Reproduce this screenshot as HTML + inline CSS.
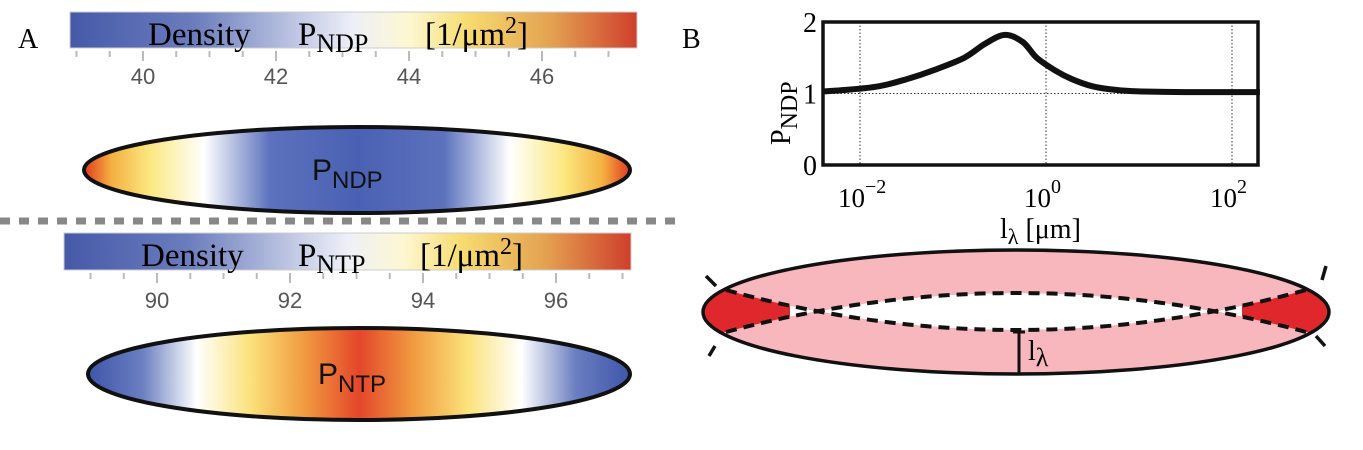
<!DOCTYPE html>
<html><head><meta charset="utf-8"><style>
html,body{margin:0;padding:0;background:#fff;width:1363px;height:450px;overflow:hidden}
svg{display:block}
.serif{font-family:"Liberation Serif",serif}
.sans{font-family:"Liberation Sans",sans-serif}
</style></head><body>
<svg id="fig" width="1363" height="450" viewBox="0 0 1363 450" xmlns="http://www.w3.org/2000/svg">
<defs>
<linearGradient id="cbar" x1="0" x2="1" y1="0" y2="0">
<stop offset="0" stop-color="#4559a8"/><stop offset="0.22" stop-color="#6b7dbd"/>
<stop offset="0.5" stop-color="#eef0f8"/><stop offset="0.6" stop-color="#fdf7d0"/>
<stop offset="0.7" stop-color="#f7dc70"/><stop offset="0.85" stop-color="#e3a150"/>
<stop offset="1" stop-color="#cf3f2c"/></linearGradient>
<linearGradient id="e1" x1="0" x2="1" y1="0" y2="0">
<stop offset="0" stop-color="#e03a20"/><stop offset="0.05" stop-color="#f4b040"/>
<stop offset="0.12" stop-color="#fbe880"/><stop offset="0.22" stop-color="#ffffff"/>
<stop offset="0.34" stop-color="#5c72bd"/><stop offset="0.5" stop-color="#4a61b3"/>
<stop offset="0.66" stop-color="#5c72bd"/><stop offset="0.78" stop-color="#ffffff"/>
<stop offset="0.88" stop-color="#fbe880"/><stop offset="0.95" stop-color="#f4b040"/>
<stop offset="1" stop-color="#e03a20"/></linearGradient>
<linearGradient id="e2" x1="0" x2="1" y1="0" y2="0">
<stop offset="0" stop-color="#3e56aa"/><stop offset="0.1" stop-color="#6a7ec0"/>
<stop offset="0.2" stop-color="#ffffff"/><stop offset="0.3" stop-color="#fbe27a"/>
<stop offset="0.4" stop-color="#f09a40"/><stop offset="0.5" stop-color="#e4462a"/>
<stop offset="0.6" stop-color="#f09a40"/><stop offset="0.7" stop-color="#fbe27a"/>
<stop offset="0.8" stop-color="#ffffff"/><stop offset="0.9" stop-color="#6a7ec0"/>
<stop offset="1" stop-color="#3e56aa"/></linearGradient>
<clipPath id="ellclip"><ellipse cx="1016" cy="312" rx="313" ry="62"/></clipPath>
<clipPath id="lensclip"><rect x="790" y="240" width="452" height="150"/></clipPath>
</defs>

<text x="18" y="48" class="serif" font-size="28">A</text>
<text x="682" y="48" class="serif" font-size="28">B</text>

<g>
<rect x="70" y="12" width="567" height="36" fill="url(#cbar)" stroke="#ccc" stroke-width="1"/>
<g id="ticks1"></g>
<text x="148" y="45" class="serif" font-size="33">Density</text>
<text x="298" y="45" class="serif" font-size="33">P<tspan font-size="26" dy="7">NDP</tspan></text>
<text x="425" y="45" class="serif" font-size="33">[1/μm<tspan font-size="24" dy="-12">2</tspan><tspan dy="12">]</tspan></text>
</g>
<g>
<ellipse cx="357" cy="170" rx="273" ry="43" fill="url(#e1)" stroke="#111" stroke-width="4"/>
<text x="312" y="180" class="sans" font-size="30" fill="#111">P<tspan font-size="24" dy="8">NDP</tspan></text>
</g>
<line x1="0" y1="221" x2="680" y2="221" stroke="#888" stroke-width="7" stroke-dasharray="10 9"/>

<g>
<rect x="64" y="233" width="567" height="37" fill="url(#cbar)" stroke="#ccc" stroke-width="1"/>
<g id="ticks2"></g>
<text x="141" y="266" class="serif" font-size="33">Density</text>
<text x="298" y="266" class="serif" font-size="33">P<tspan font-size="26" dy="7">NTP</tspan></text>
<text x="420" y="266" class="serif" font-size="33">[1/μm<tspan font-size="24" dy="-12">2</tspan><tspan dy="12">]</tspan></text>
</g>
<g>
<ellipse cx="359" cy="374" rx="271" ry="46" fill="url(#e2)" stroke="#111" stroke-width="4"/>
<text x="318" y="384" class="sans" font-size="30" fill="#111">P<tspan font-size="24" dy="8">NTP</tspan></text>
</g>

<g id="plotB"></g>
<text transform="translate(790,145) rotate(-90)" class="serif" font-size="28">P<tspan font-size="24" dy="7">NDP</tspan></text>
<text x="1000" y="238" class="serif" font-size="28">l<tspan font-size="22" dy="6">λ</tspan><tspan dy="-6"> [μm]</tspan></text>

<g>
<ellipse cx="1016" cy="312" rx="313" ry="62" fill="#f7b7bc"/>
<g clip-path="url(#ellclip)" fill="#e0282c">
<path d="M726,332 Q1016,254 1306,332 L1306,290 Q1016,370 726,290 Z"/>
<rect x="690" y="290" width="37" height="42"/>
<rect x="1305" y="290" width="37" height="42"/>
</g>
<path d="M726,332 Q1016,254 1306,332 L1306,290 Q1016,370 726,290 Z" fill="#fff" clip-path="url(#lensclip)"/>
<ellipse cx="1016" cy="312" rx="313" ry="62" fill="none" stroke="#111" stroke-width="3.5"/>
<path d="M726,332 Q1016,254 1306,332" fill="none" stroke="#111" stroke-width="4" stroke-dasharray="11 7"/>
<path d="M726,290 Q1016,370 1306,290" fill="none" stroke="#111" stroke-width="4" stroke-dasharray="11 7"/>
<g stroke="#111" stroke-width="3.5" fill="none">
<line x1="706" y1="276" x2="716" y2="286"/><line x1="715" y1="346" x2="709" y2="356"/>
<line x1="1326" y1="266" x2="1322" y2="280"/><line x1="1316" y1="336" x2="1325" y2="346"/>
</g>
<line x1="1019" y1="332" x2="1019" y2="374" stroke="#111" stroke-width="3"/>
<line x1="1013" y1="332" x2="1025" y2="332" stroke="#111" stroke-width="3"/>
<text x="1028" y="360" class="serif" font-size="28">l<tspan font-size="26" dy="6">λ</tspan></text>
</g>
</svg>

<script>
const ndpTicks = [40, 42, 44, 46];
const ntpTicks = [90, 92, 94, 96];
const logX = [-2.4,-2.15,-1.8,-1.5,-1.2,-0.88,-0.65,-0.44,-0.25,-0.1,0.1,0.28,0.5,0.75,1,1.5,2.3];
const pVals = [1.03,1.05,1.1,1.2,1.33,1.5,1.7,1.82,1.72,1.5,1.32,1.2,1.1,1.05,1.03,1.02,1.02];
const xTickExp = [-2, 0, 2];
const yTicks = [0, 1, 2];

const NS = "http://www.w3.org/2000/svg";
function mk(tag, attrs, parent){const e=document.createElementNS(NS,tag);for(const k in attrs)e.setAttribute(k,attrs[k]);parent.appendChild(e);return e;}

function drawBarTicks(gid, ticks, x0, ppu, yTop, labelY, barL, barR){
  const g=document.getElementById(gid);
  const lo=ticks[0]-2, hi=ticks[ticks.length-1]+2;
  for(let v=lo; v<=hi+1e-9; v+=0.5){
    const x=x0+(v-ticks[0])*ppu;
    if(x<barL+3||x>barR-3) continue;
    const major=ticks.includes(v);
    const t=mk('line',{x1:x,x2:x,y1:yTop+3,y2:yTop+(major?13:9),stroke:'#bbb','stroke-width':2},g);
    
    
  }
  ticks.forEach(v=>{
    const t=mk('text',{x:x0+(v-ticks[0])*ppu,y:labelY,'text-anchor':'middle','font-size':22,fill:'#555','font-family':'Liberation Sans, sans-serif'},g);
    t.textContent=v;
    
    
  });
}
drawBarTicks('ticks1', ndpTicks, 143, 66.5, 48, 84, 70, 637);
drawBarTicks('ticks2', ntpTicks, 157, 66.5, 270, 308, 64, 631);

const g=document.getElementById('plotB');
const L=823,R=1258,T=22,B=165;
const xs=v=>1046+v*93;
const ys=v=>B-(v/2)*(B-T);
xTickExp.forEach(e=>{
  const l=mk('line',{x1:xs(e),x2:xs(e),y1:T,y2:B,stroke:'#333','stroke-width':1,'stroke-dasharray':'1.5 2'},g);
  
  
  const t=mk('text',{x:xs(e)-22,y:207,'font-size':27,'font-family':'Liberation Serif, serif'},g);
  
  
  t.textContent='10';
  const s=mk('tspan',{'font-size':20,dy:-14},t);
  s.textContent=(e<0?'\u2212'+(-e):String(e));
});
const gl=mk('line',{x1:L,x2:R,y1:ys(1),y2:ys(1),stroke:'#333','stroke-width':1,'stroke-dasharray':'1.5 2'},g);


yTicks.forEach(v=>{
  const t=mk('text',{x:L-6,y:ys(v)+10,'text-anchor':'end','font-size':28,'font-family':'Liberation Serif, serif'},g);
  t.textContent=v;
  
  
});
// smooth Catmull-Rom path through data points
const P=logX.map((v,i)=>[xs(v),ys(pVals[i])]);
let d='M'+P[0][0].toFixed(1)+','+P[0][1].toFixed(1);
for(let i=0;i<P.length-1;i++){
  const p0=P[Math.max(0,i-1)],p1=P[i],p2=P[i+1],p3=P[Math.min(P.length-1,i+2)];
  const c1=[p1[0]+(p2[0]-p0[0])/6,p1[1]+(p2[1]-p0[1])/6];
  const c2=[p2[0]-(p3[0]-p1[0])/6,p2[1]-(p3[1]-p1[1])/6];
  d+=' C'+c1.map(n=>n.toFixed(1)).join(',')+' '+c2.map(n=>n.toFixed(1)).join(',')+' '+p2[0].toFixed(1)+','+p2[1].toFixed(1);
}
const cv=mk('path',{d:d,fill:'none',stroke:'#111','stroke-width':6,'stroke-linejoin':'round'},g);


const fr=mk('rect',{x:L,y:T,width:R-L,height:B-T,fill:'none',stroke:'#111','stroke-width':3.5},g);


</script>
</body></html>
